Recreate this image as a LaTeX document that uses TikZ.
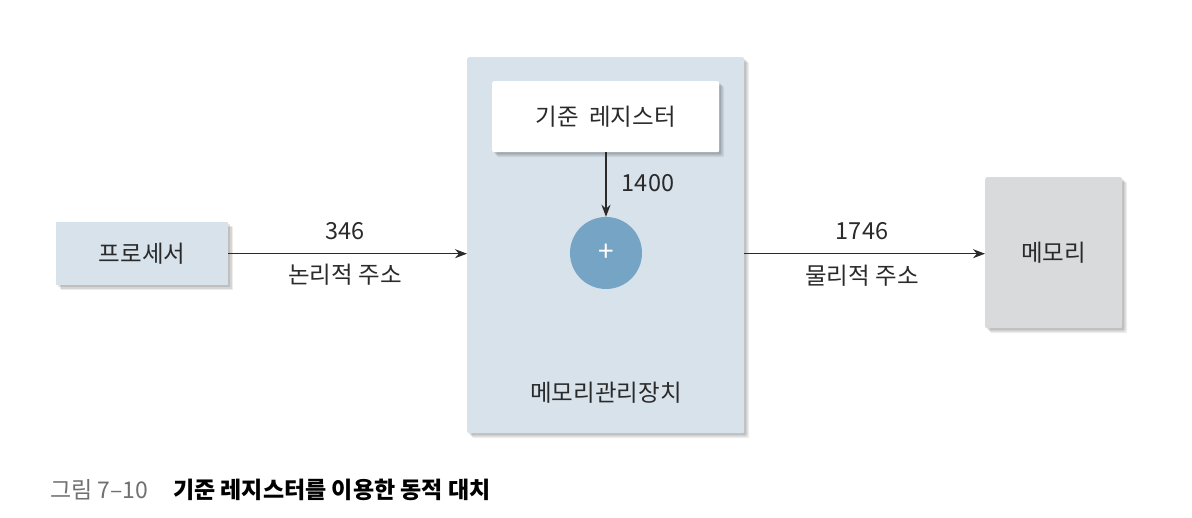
\documentclass[tikz,border=0pt]{standalone}
\usepackage{fontspec}
\setmainfont{Noto Sans CJK KR}
\usetikzlibrary{arrows.meta,shadows}
\definecolor{boxblue}{HTML}{D8E2EB}
\definecolor{circblue}{HTML}{76A4C4}
\definecolor{memgray}{HTML}{D9DADC}
\definecolor{capgray}{HTML}{707070}
\definecolor{linec}{HTML}{2A2A2A}
\tikzset{
  shad/.style={
    drop shadow={shadow xshift=2pt,shadow yshift=-2pt,fill=black,opacity=0.10},
    drop shadow={shadow xshift=3.5pt,shadow yshift=-3.5pt,fill=black,opacity=0.10},
    drop shadow={shadow xshift=5pt,shadow yshift=-5pt,fill=black,opacity=0.07}},
  blockbox/.style={shad,rectangle,rounded corners=2pt,inner sep=0pt,anchor=north west},
  lbl/.style={font=\fontsize{23.5}{26}\selectfont,text=linec,inner sep=0pt},
  conn/.style={draw=linec,line width=1.3pt,-{Stealth[length=12pt,width=9pt]}}
}
\begin{document}
\begin{tikzpicture}[x=1pt,y=-1pt]
\useasboundingbox (0,0) rectangle (1192,518);
% processor
\node[blockbox,fill=boxblue,rounded corners=0pt,minimum width=172pt,minimum height=63pt] (proc) at (56,222) {};
\node[lbl] (proct) at (proc.center) {프로세서};
% MMU
\node[blockbox,fill=boxblue,minimum width=277pt,minimum height=376pt] (mmu) at (467,57) {};
\node[blockbox,fill=white,minimum width=227pt,minimum height=71pt] (base) at (492,81) {};
\node[lbl] (baset) at (base.center) {기준\ \ 레지스터};
\node[circle,fill=circblue,minimum size=72pt,inner sep=0pt] (plus) at (606,253) {};
\node[font=\fontsize{28}{30}\selectfont,text=white,inner sep=0pt] (plust) at (plus.center) {+};
\node[lbl] (mmut) at (606,393) {메모리관리장치};
\node[lbl] (v1400) at (648,183) {1400};
% memory
\node[blockbox,fill=memgray,minimum width=137pt,minimum height=151pt] (mem) at (985,177) {};
\node[lbl] (memt) at (mem.center) {메모리};
% connectors
\coordinate (mmuin) at (mmu.west |- proc.east);
\coordinate (memin) at (mem.west |- proc.east);
\coordinate (mmuout) at (mmu.east |- proc.east);
\draw[conn] (proc.east) -- (mmuin);
\draw[conn] (base.south -| plus.north) -- (plus.north);
\draw[conn] (mmuout) -- (memin);
\node[lbl] (l346) at (345,231) {346};
\node[lbl] (logical) at (345,275) {논리적\ 주소};
\node[lbl] (l1746) at (862,231) {1746};
\node[lbl] (physical) at (862,276) {물리적\ 주소};
% caption
\node[anchor=west,inner sep=0pt,font=\fontsize{23}{26}\selectfont,text=capgray] (capnum) at (50,490) {그림 7–10};
\node[anchor=west,inner sep=0pt,font=\fontsize{23}{26}\selectfont\bfseries,text=black] (captxt) at (173,490) {기준 레지스터를 이용한 동적 대치};
\end{tikzpicture}
\end{document}
